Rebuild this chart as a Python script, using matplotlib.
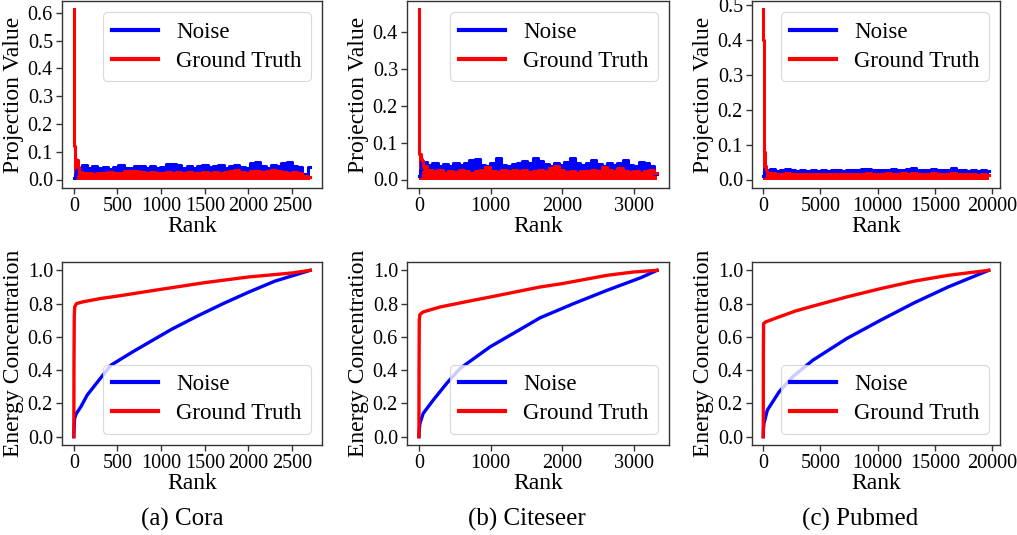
import numpy as np
import matplotlib
matplotlib.use("Agg")
import matplotlib.pyplot as plt

# ---------------- data ----------------
datasets = ["Cora", "Citeseer", "Pubmed"]
captions = ["(a) Cora", "(b) Citeseer", "(c) Pubmed"]
n_nodes = [2708, 3327, 19717]

# Projection values: head (sharp spike) + band (upper envelope)
cora_gt_head_rank = [0, 2, 4, 7, 12, 20, 35, 50]
cora_gt_head_val = [0.612, 0.45, 0.25, 0.12, 0.09, 0.075, 0.072, 0.045]
cora_noise_head_rank = [0, 20, 40]
cora_noise_head_val = [0.005, 0.02, 0.035]
cora_noise_band = [0.040, 0.052, 0.042, 0.048, 0.040, 0.045, 0.039, 0.046, 0.052, 0.043,
                   0.040, 0.047, 0.050, 0.042, 0.048, 0.040, 0.044, 0.055, 0.056, 0.052,
                   0.043, 0.048, 0.042, 0.050, 0.053, 0.044, 0.049, 0.052, 0.043, 0.048,
                   0.054, 0.046, 0.043, 0.058, 0.062, 0.048, 0.043, 0.053, 0.047, 0.058,
                   0.062, 0.048, 0.044, 0.020, 0.045]
cora_gt_band = [0.027, 0.022, 0.025, 0.021, 0.024, 0.022, 0.027, 0.025, 0.023, 0.029,
                0.032, 0.030, 0.027, 0.024, 0.026, 0.023, 0.025, 0.027, 0.023, 0.026,
                0.024, 0.028, 0.022, 0.025, 0.027, 0.023, 0.026, 0.024, 0.028, 0.031,
                0.033, 0.027, 0.024, 0.030, 0.032, 0.026, 0.029, 0.034, 0.032, 0.027,
                0.025, 0.028, 0.023, 0.012, 0.010]

cite_gt_head_rank = [0, 2, 4, 8, 15, 30, 50]
cite_gt_head_val = [0.462, 0.32, 0.15, 0.07, 0.068, 0.055, 0.05]
cite_noise_head_rank = [0, 20, 45]
cite_noise_head_val = [0.01, 0.025, 0.05]
cite_noise_band = [0.048, 0.040, 0.045, 0.036, 0.042, 0.038, 0.044, 0.040, 0.046, 0.052,
                   0.056, 0.040, 0.038, 0.044, 0.058, 0.040, 0.036, 0.042, 0.046, 0.050,
                   0.044, 0.058, 0.050, 0.042, 0.038, 0.046, 0.040, 0.048, 0.058, 0.046,
                   0.040, 0.044, 0.052, 0.042, 0.038, 0.046, 0.040, 0.044, 0.052, 0.040,
                   0.038, 0.048, 0.044, 0.036, 0.015]
cite_gt_band = [0.036, 0.027, 0.022, 0.025, 0.019, 0.023, 0.021, 0.025, 0.022, 0.019,
                0.024, 0.027, 0.034, 0.023, 0.020, 0.025, 0.022, 0.027, 0.023, 0.025,
                0.021, 0.024, 0.027, 0.023, 0.031, 0.036, 0.025, 0.021, 0.023, 0.019,
                0.024, 0.022, 0.027, 0.023, 0.033, 0.025, 0.022, 0.032, 0.023, 0.020,
                0.023, 0.019, 0.022, 0.025, 0.017]

pub_gt_head_rank = [0, 10, 30, 80, 150, 250]
pub_gt_head_val = [0.487, 0.40, 0.20, 0.08, 0.04, 0.028]
pub_noise_head_rank = [0, 150]
pub_noise_head_val = [0.01, 0.030]
pub_noise_band = [0.027, 0.029, 0.025, 0.027, 0.031, 0.026, 0.024, 0.026, 0.025, 0.027,
                  0.024, 0.026, 0.025, 0.027, 0.026, 0.025, 0.028, 0.026, 0.027, 0.029,
                  0.031, 0.027, 0.026, 0.028, 0.027, 0.029, 0.026, 0.027, 0.030, 0.034,
                  0.028, 0.027, 0.026, 0.029, 0.027, 0.026, 0.028, 0.033, 0.027, 0.026,
                  0.025, 0.027, 0.024, 0.026, 0.023]
pub_gt_band = [0.020, 0.018, 0.016, 0.017, 0.018, 0.016, 0.015, 0.017, 0.016, 0.015,
               0.016, 0.015, 0.016, 0.017, 0.015, 0.016, 0.015, 0.017, 0.016, 0.017,
               0.018, 0.016, 0.017, 0.016, 0.018, 0.017, 0.016, 0.018, 0.017, 0.019,
               0.017, 0.016, 0.017, 0.018, 0.016, 0.015, 0.017, 0.018, 0.016, 0.015,
               0.016, 0.015, 0.014, 0.015, 0.013]

band_start = [60, 75, 400]

# Energy concentration curves
cora_gt_energy_rank = [0, 2, 5, 10, 30, 100, 300, 500, 1000, 1500, 2000, 2500, 2707]
cora_gt_energy = [0.0, 0.45, 0.72, 0.78, 0.80, 0.81, 0.83, 0.845, 0.886, 0.926, 0.96, 0.984, 1.0]
cora_noise_energy_rank = [0, 3, 9, 30, 81, 153, 303, 426, 674, 970, 1118, 1415, 1711, 2007, 2303, 2707]
cora_noise_energy = [0.0, 0.05, 0.11, 0.14, 0.18, 0.25, 0.35, 0.43, 0.51, 0.60, 0.645, 0.725, 0.80, 0.87, 0.935, 1.0]

cite_gt_energy_rank = [0, 2, 5, 15, 60, 300, 761, 1000, 1694, 2000, 2628, 3000, 3326]
cite_gt_energy = [0.0, 0.40, 0.70, 0.735, 0.75, 0.78, 0.82, 0.84, 0.90, 0.92, 0.97, 0.99, 1.0]
cite_noise_energy_rank = [0, 5, 14, 60, 200, 387, 574, 994, 1415, 1694, 2161, 2628, 3095, 3326]
cite_noise_energy = [0.0, 0.04, 0.08, 0.14, 0.22, 0.32, 0.41, 0.54, 0.645, 0.715, 0.80, 0.88, 0.955, 1.0]

pub_gt_energy_rank = [0, 10, 30, 210, 1390, 2800, 4345, 7300, 10256, 13210, 16170, 19716]
pub_gt_energy = [0.0, 0.50, 0.68, 0.69, 0.72, 0.755, 0.785, 0.84, 0.89, 0.935, 0.97, 1.0]
pub_noise_energy_rank = [0, 20, 60, 360, 1390, 2570, 4345, 7300, 10256, 13210, 16170, 19716]
pub_noise_energy = [0.0, 0.05, 0.08, 0.16, 0.27, 0.36, 0.46, 0.59, 0.70, 0.805, 0.90, 1.0]

proj = [
    (cora_noise_head_rank, cora_noise_head_val, cora_noise_band, cora_gt_head_rank, cora_gt_head_val, cora_gt_band),
    (cite_noise_head_rank, cite_noise_head_val, cite_noise_band, cite_gt_head_rank, cite_gt_head_val, cite_gt_band),
    (pub_noise_head_rank, pub_noise_head_val, pub_noise_band, pub_gt_head_rank, pub_gt_head_val, pub_gt_band),
]
energy = [
    (cora_noise_energy_rank, cora_noise_energy, cora_gt_energy_rank, cora_gt_energy),
    (cite_noise_energy_rank, cite_noise_energy, cite_gt_energy_rank, cite_gt_energy),
    (pub_noise_energy_rank, pub_noise_energy, pub_gt_energy_rank, pub_gt_energy),
]
xticks = [[0, 500, 1000, 1500, 2000, 2500], [0, 1000, 2000, 3000], [0, 5000, 10000, 15000, 20000]]
yticks_top = [np.arange(0, 0.61, 0.1), np.arange(0, 0.41, 0.1), np.arange(0, 0.51, 0.1)]

# ---------------- style ----------------
plt.rcParams['font.family'] = ['Liberation Serif', 'DejaVu Serif']
BLUE = '#0000ff'
RED = '#ff0000'
TICK_FS = 14.5
LABEL_FS = 17
LEG_FS = 16.5

fig = plt.figure(figsize=(10.17, 5.35), dpi=100)
W, H = 1017.0, 535.0
cols = [(62, 322), (407, 669), (752, 1000)]
rows = [(1, 188), (262, 445)]


def make_ax(c, r):
    x0, x1 = cols[c]
    y0, y1 = rows[r]
    return fig.add_axes([x0 / W, 1 - y1 / H, (x1 - x0) / W, (y1 - y0) / H])


def style(ax):
    for s in ax.spines.values():
        s.set_color('#333333')
        s.set_linewidth(1.0)
    ax.tick_params(labelsize=TICK_FS, color='#333333', length=4, width=1.0, pad=2.5)


def legend(ax, loc):
    lg = ax.legend(loc=loc, fontsize=LEG_FS, frameon=True, fancybox=True,
                   handlelength=2.0, borderpad=0.4, labelspacing=0.35)
    lg.get_frame().set_edgecolor('#d0d0d0')
    lg.get_frame().set_linewidth(0.8)
    for l in lg.get_lines():
        l.set_linewidth(3.0)


for c in range(3):
    n = n_nodes[c]
    nh_r, nh_v, n_band, gh_r, gh_v, g_band = proj[c]
    nx = np.concatenate([nh_r, np.linspace(band_start[c], n - 1, len(n_band))])
    ny = np.concatenate([nh_v, n_band])
    gx = np.concatenate([gh_r, np.linspace(band_start[c], n - 1, len(g_band))])
    gy = np.concatenate([gh_v, g_band])

    ax = make_ax(c, 0)
    ax.fill_between(nx, 0.003, ny, step='mid', color=BLUE, linewidth=0)
    ax.plot(nx, ny, drawstyle='steps-mid', color=BLUE, lw=2.2, label='Noise')
    ax.fill_between(gx, 0.0, gy, step='mid', color=RED, linewidth=0)
    ax.plot(gx, gy, drawstyle='steps-mid', color=RED, lw=2.2, label='Ground Truth')
    ax.set_xticks(xticks[c])
    ax.set_yticks(yticks_top[c])
    ax.yaxis.set_major_formatter(matplotlib.ticker.FormatStrFormatter('%.1f'))
    ax.set_xlabel('Rank', fontsize=LABEL_FS, labelpad=0)
    ax.set_ylabel('Projection Value', fontsize=LABEL_FS, labelpad=3)
    style(ax)
    legend(ax, 'upper right')

    er_n, ev_n, er_g, ev_g = energy[c]
    ax2 = make_ax(c, 1)
    ax2.plot(er_n, ev_n, color=BLUE, lw=2.4, label='Noise')
    ax2.plot(er_g, ev_g, color=RED, lw=2.4, label='Ground Truth')
    ax2.set_xticks(xticks[c])
    ax2.set_yticks(np.arange(0, 1.01, 0.2))
    ax2.yaxis.set_major_formatter(matplotlib.ticker.FormatStrFormatter('%.1f'))
    ax2.set_xlabel('Rank', fontsize=LABEL_FS, labelpad=0)
    ax2.set_ylabel('Energy Concentration', fontsize=LABEL_FS, labelpad=3)
    style(ax2)
    legend(ax2, 'lower right')

cap_x = [182, 527, 860]
for c in range(3):
    fig.text(cap_x[c] / W, 1 - 519 / H, captions[c], ha='center', va='center', fontsize=18)

fig.savefig('out.png', dpi=100)
